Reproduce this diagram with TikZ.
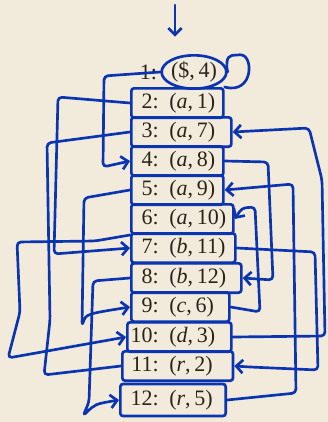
\documentclass[tikz,border=0pt]{standalone}
\usepackage{fontspec}
\setmainfont{Liberation Serif}
\usepackage{tikz}
\usetikzlibrary{arrows.meta,shapes.geometric}
\definecolor{paper}{HTML}{F2EBDC}
\definecolor{pen}{HTML}{0A34B0}
\definecolor{ink}{HTML}{2A2418}
\newcommand{\cellrow}[5]{\makebox[#1][l]{\hspace{#2}\makebox[20.5pt][r]{#3:}\hspace{8pt}(\textit{#4},\,#5)}}
\tikzset{
  cell/.style={draw=pen,line width=2pt,rounded corners=2pt,anchor=west,inner sep=0pt,minimum height=22pt,text=ink},
  oval/.style={ellipse,draw=pen,line width=2pt,inner sep=0pt,minimum width=47pt,minimum height=25pt,text=ink},
  lbl/.style={anchor=east,inner sep=0pt,text=ink},
  ln/.style={draw=pen,line width=2pt,line cap=round,line join=round,rounded corners=3pt},
  ar/.style={ln,-{Straight Barb[length=5pt,width=10pt]}},
}
\begin{document}
\begin{tikzpicture}[x=0.75pt,y=-0.75pt,font=\fontsize{16.5}{19}\selectfont]
\fill[paper] (0,0) rectangle (328,422);
\node[lbl] (l1) at (157.3,72) {1:};
\node[oval] (e1) at (194,72) {(\$,\,4)};
\node[cell] (b2) at (130,103) {\cellrow{69pt}{0pt}{2}{a}{1}};
\node[cell] (b3) at (130,132) {\cellrow{75pt}{0pt}{3}{a}{7}};
\node[cell] (b4) at (130,161) {\cellrow{69pt}{0pt}{4}{a}{8}};
\node[cell] (b5) at (130,190) {\cellrow{69pt}{0pt}{5}{a}{9}};
\node[cell] (b6) at (130,219) {\cellrow{76.5pt}{0pt}{6}{a}{10}};
\node[cell] (b7) at (130,248) {\cellrow{78pt}{0pt}{7}{b}{11}};
\node[cell] (b8) at (130,278) {\cellrow{82.5pt}{0pt}{8}{b}{12}};
\node[cell] (b9) at (130,307) {\cellrow{73.5pt}{0pt}{9}{c}{6}};
\node[cell] (b10) at (126,337) {\cellrow{78pt}{3pt}{10}{d}{3}};
\node[cell] (b11) at (121,366) {\cellrow{83pt}{6.75pt}{11}{r}{2}};
\node[cell,minimum height=24pt] (b12) at (119,400) {\cellrow{79pt}{8.25pt}{12}{r}{5}};
\coordinate (start) at (175,5);
\draw[ar,shorten >=13pt] (start) -- (start |- e1.north);
\draw[ln] (b2.north east) .. controls (254,95) and (254,54) .. (236,55) .. controls (226,56) and (226,66) .. (e1.east);
\draw[ar] (e1.west) -- (104,76) -- (103,167) -- (b4.west);
\draw[ar] (b2.west) -- (58,97) -- (54,254) -- (b7.west);
\draw[ln] (b3.west) -- (47,143) -- (50,320) -- (44,375) -- (b11.west);
\draw[ar] (b5.west) -- (84,198) -- (82,326) .. controls (86,314) .. (b9.west);
\draw[ar] (b6.south west) -- (95,241) -- (17,242) -- (20,312) -- (8,358) -- (b10.west);
\draw[ar] (b8.west) -- (93,281) -- (89,402) -- (83,416) .. controls (95,404) .. (b12.west);
\draw[ar] (b10.east) -- (325,336) -- (322,180) -- (309,128) -- (b3.east);
\draw[ar] (b7.east) -- (315,252) -- (318,370) -- (250,367) -- (b11.east);
\draw[ar] (b4.east) -- (268,162) -- (273,280) -- (b8.east);
\draw[ar] (b9.east) -- (260,312) -- (255,207) -- (242,208) -- (b6.east);
\draw[ar] (b12.east) -- (296,393) -- (293,184) -- (b5.east);
\end{tikzpicture}
\end{document}
